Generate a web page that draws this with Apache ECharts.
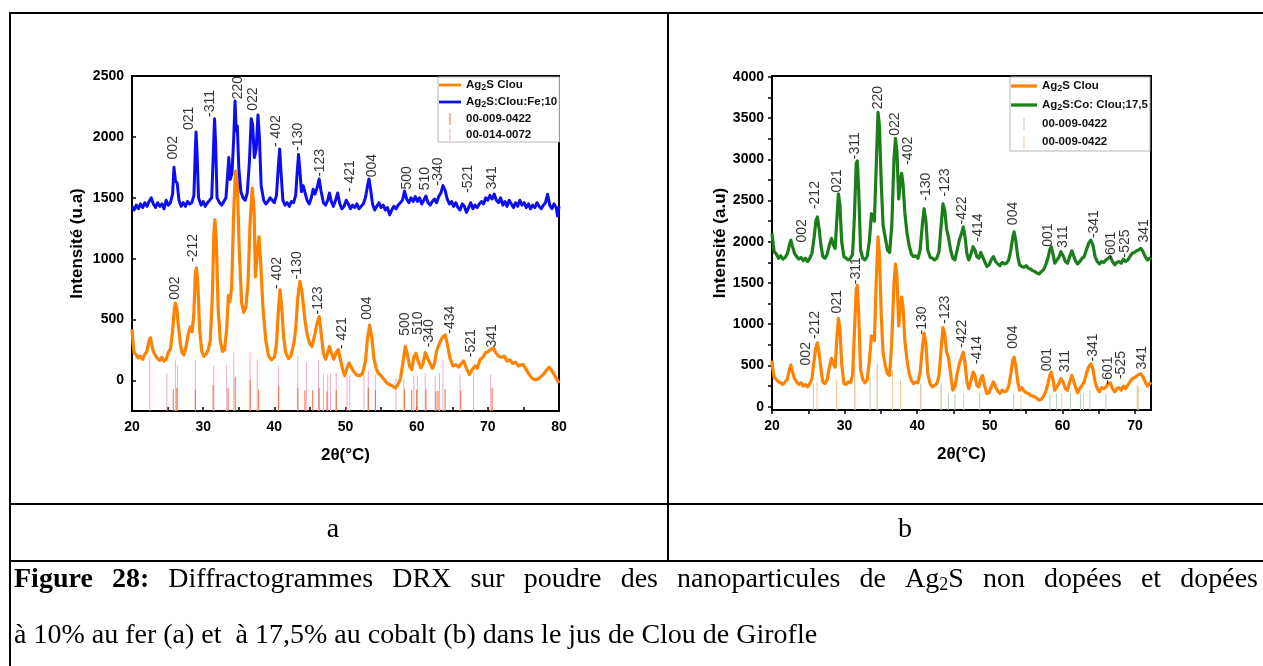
<!DOCTYPE html>
<html>
<head>
<meta charset="utf-8">
<script src="https://cdn.jsdelivr.net/npm/echarts@6/dist/echarts.min.js"></script>
<style>
  html, body { margin: 0; padding: 0; background: #fff; }
  #c { width: 1263px; height: 666px; }
</style>
</head>
<body>
<div id="c"></div>
<script>
// ---------- (a) Ag2S Clou vs Ag2S:Clou:Fe;10 ----------
const orangeA = [
  [20.0,420],[20.15,300],[20.3,230],[20.6,210],[20.9,185],[21.2,200],[21.5,175],[21.8,215],[22.1,240],[22.4,330],[22.6,350],[22.8,290],[23.0,240],[23.3,205],[23.6,180],[23.9,165],[24.2,190],[24.5,160],[24.8,175],[25.1,230],[25.4,260],[25.7,400],[25.95,590],[26.1,635],[26.3,590],[26.5,460],[26.8,300],[27.0,230],[27.3,210],[27.6,280],[27.9,380],[28.2,440],[28.45,400],[28.7,560],[28.9,880],[29.05,925],[29.25,800],[29.5,420],[29.8,240],[30.1,200],[30.4,215],[30.7,250],[31.0,330],[31.3,700],[31.5,1200],[31.65,1320],[31.85,1150],[32.1,600],[32.4,330],[32.7,240],[33.0,250],[33.3,420],[33.55,700],[33.75,650],[34.0,760],[34.3,1400],[34.55,1720],[34.8,1620],[35.05,1100],[35.4,640],[35.7,560],[36.0,600],[36.3,800],[36.6,1300],[36.9,1580],[37.15,1400],[37.35,850],[37.6,1050],[37.85,1180],[38.1,950],[38.4,600],[38.8,330],[39.2,200],[39.6,170],[40.0,190],[40.3,300],[40.55,560],[40.8,745],[41.05,600],[41.3,360],[41.6,230],[42.0,180],[42.3,200],[42.7,290],[43.0,420],[43.3,680],[43.6,815],[43.9,720],[44.3,500],[44.6,380],[45.0,300],[45.3,280],[45.7,380],[46.0,470],[46.3,525],[46.6,380],[46.9,220],[47.2,175],[47.5,230],[47.75,280],[48.0,230],[48.35,175],[48.7,230],[49.0,255],[49.3,170],[49.6,90],[49.9,40],[50.2,100],[50.5,145],[50.8,110],[51.2,70],[51.6,45],[52.0,40],[52.4,60],[52.8,160],[53.1,350],[53.4,455],[53.7,350],[54.0,180],[54.3,100],[54.6,60],[55.0,40],[55.4,10],[55.8,-20],[56.2,-35],[56.6,-45],[57.0,-60],[57.3,-40],[57.7,10],[58.0,120],[58.4,280],[58.7,210],[59.0,120],[59.3,90],[59.6,190],[59.9,225],[60.2,160],[60.6,105],[60.9,140],[61.2,230],[61.45,240],[61.8,150],[62.2,100],[62.5,140],[62.8,240],[63.1,290],[63.4,330],[63.7,360],[64.0,375],[64.3,300],[64.7,180],[65.1,120],[65.5,130],[65.9,110],[66.3,140],[66.6,160],[67.0,100],[67.4,50],[67.8,90],[68.2,120],[68.5,100],[68.9,170],[69.3,190],[69.7,230],[70.1,240],[70.5,260],[70.8,265],[71.1,230],[71.5,200],[71.9,190],[72.3,200],[72.7,160],[73.1,170],[73.5,140],[73.9,150],[74.3,120],[74.7,130],[75.0,130],[75.4,90],[75.8,50],[76.2,20],[76.6,5],[77.0,10],[77.4,30],[77.8,50],[78.2,80],[78.6,110],[78.9,90],[79.2,60],[79.6,20],[80.0,-20]
];
const blueA = [
  [20.0,1430],[20.3,1400],[20.6,1440],[20.9,1410],[21.2,1450],[21.5,1420],[21.8,1460],[22.1,1430],[22.4,1470],[22.7,1500],[23.0,1450],[23.3,1420],[23.6,1460],[23.9,1430],[24.2,1450],[24.5,1410],[24.8,1480],[25.1,1440],[25.4,1460],[25.7,1530],[25.9,1750],[26.1,1640],[26.35,1620],[26.6,1480],[26.9,1430],[27.2,1460],[27.5,1430],[27.8,1470],[28.1,1450],[28.4,1460],[28.7,1520],[28.9,1900],[29.0,2040],[29.15,1850],[29.35,1500],[29.7,1440],[30.0,1470],[30.3,1430],[30.6,1460],[30.9,1480],[31.2,1500],[31.45,1900],[31.6,2150],[31.75,1950],[31.95,1500],[32.3,1460],[32.6,1440],[32.9,1470],[33.2,1500],[33.45,1700],[33.6,1830],[33.8,1650],[34.05,1700],[34.3,2000],[34.48,2295],[34.65,2050],[34.8,2090],[35.0,1750],[35.3,1550],[35.6,1500],[35.9,1480],[36.2,1540],[36.5,1800],[36.75,2150],[36.95,2100],[37.2,1830],[37.45,1900],[37.7,2180],[37.9,2000],[38.15,1600],[38.5,1480],[38.8,1450],[39.1,1470],[39.4,1500],[39.7,1480],[40.0,1460],[40.3,1520],[40.55,1750],[40.75,1900],[40.95,1700],[41.2,1480],[41.5,1440],[41.8,1460],[42.1,1430],[42.4,1470],[42.7,1460],[43.0,1520],[43.2,1700],[43.4,1855],[43.6,1720],[43.8,1550],[44.05,1600],[44.3,1610],[44.6,1480],[44.9,1450],[45.2,1500],[45.45,1570],[45.7,1530],[46.0,1580],[46.3,1655],[46.55,1560],[46.9,1460],[47.2,1440],[47.5,1480],[47.75,1540],[48.0,1470],[48.3,1430],[48.6,1480],[48.9,1540],[49.2,1450],[49.5,1410],[49.8,1430],[50.1,1480],[50.4,1450],[50.7,1410],[51.0,1440],[51.3,1420],[51.6,1450],[51.9,1410],[52.2,1430],[52.5,1450],[52.8,1500],[53.1,1600],[53.3,1655],[53.5,1580],[53.8,1450],[54.1,1400],[54.4,1430],[54.7,1460],[55.0,1420],[55.3,1440],[55.6,1400],[55.9,1420],[56.2,1360],[56.5,1400],[56.8,1430],[57.1,1410],[57.4,1440],[57.7,1460],[58.0,1480],[58.3,1555],[58.6,1490],[58.9,1460],[59.2,1500],[59.5,1470],[59.8,1510],[60.1,1470],[60.4,1500],[60.7,1450],[61.0,1480],[61.3,1515],[61.6,1460],[61.9,1440],[62.2,1470],[62.5,1490],[62.8,1460],[63.1,1510],[63.4,1540],[63.7,1600],[64.0,1560],[64.3,1490],[64.6,1450],[64.9,1470],[65.2,1430],[65.5,1460],[65.8,1420],[66.1,1400],[66.4,1450],[66.7,1430],[67.0,1380],[67.3,1420],[67.6,1460],[67.9,1410],[68.2,1440],[68.5,1420],[68.8,1450],[69.1,1470],[69.4,1450],[69.7,1500],[70.0,1480],[70.3,1520],[70.6,1490],[70.9,1530],[71.2,1480],[71.5,1460],[71.8,1500],[72.1,1440],[72.4,1470],[72.7,1430],[73.0,1480],[73.3,1450],[73.6,1420],[73.9,1460],[74.2,1430],[74.5,1480],[74.8,1440],[75.1,1460],[75.4,1420],[75.7,1450],[76.0,1410],[76.3,1440],[76.6,1420],[76.9,1460],[77.2,1430],[77.5,1410],[77.8,1440],[78.1,1460],[78.4,1530],[78.7,1440],[79.0,1410],[79.3,1450],[79.6,1420],[79.8,1350],[80.0,1430]
];
// reference patterns (position, stick top)
const refA_0090422 = [
  [25.8,-70],[26.3,-60],[28.9,-75],[31.4,-35],[33.5,-60],[34.5,30],[36.6,5],[37.8,-75],[40.6,-50],[43.3,-60],[44.3,-80],[45.4,-80],[46.3,-60],[47.4,-90],[48.7,-80],[53.2,-60],[54.2,-80],[58.3,-70],[59.3,-80],[60.0,-75],[61.3,-70],[62.7,-90],[63.0,-85],[64.0,-70],[66.2,-80],[70.6,-60]
];
const refA_0140072 = [
  [22.5,200],[24.9,60],[26.1,170],[26.4,120],[28.9,170],[31.5,120],[33.3,130],[34.3,230],[36.6,230],[37.6,170],[40.6,120],[43.3,200],[44.5,150],[46.2,170],[46.9,60],[47.5,50],[47.9,60],[48.7,60],[50.2,30],[50.6,40],[52.6,60],[53.2,80],[54.2,50],[57.1,20],[58.2,10],[59.6,40],[60.1,40],[61.2,60],[62.6,40],[63.2,60],[63.7,170],[66.1,50],[68.0,60],[70.4,50]
];
// peak indexing: [hkl, 2θ, intensity position]
const peaksA_fe = [
  ['002',25.85,1911],['021',27.96,2152],['-311',31.0,2275],['220',34.97,2404],['022',36.99,2311],['- 402',40.26,2048],['-130',43.4,2001],['-123',46.44,1787],['- 421',50.65,1678],['004',53.69,1765],['500',58.6,1664],['510',61.18,1658],['-340',63.05,1716],['-521',67.26,1656],['341',70.63,1664]
];
const peaksA_clou = [
  ['002',26.08,759],['-212',28.66,1088],['- 402',40.36,883],['-130',43.16,946],['-123',46.2,658],['- 421',49.48,389],['004',53.08,595],['500',58.37,463],['510',60.24,471],['-340',61.79,389],['-434',64.69,499],['-521',67.64,307],['341',70.63,367]
];
const xTicksA = [20, 30, 40, 50, 60, 70, 80];
const xMinorA = [20, 25, 30, 35, 40, 45, 50, 55, 60, 65, 70, 75, 80];
const yTicksA = [0, 500, 1000, 1500, 2000, 2500];

// ---------- (b) Ag2S Clou vs Ag2S:Co: Clou;17,5 ----------
const greenB = [
  [20.0,2100],[20.1,2020],[20.3,1880],[20.6,1850],[20.9,1800],[21.2,1830],[21.5,1790],[21.8,1810],[22.1,1850],[22.4,1960],[22.6,2020],[22.8,1950],[23.1,1860],[23.4,1820],[23.7,1790],[24.0,1810],[24.3,1770],[24.6,1800],[24.9,1760],[25.2,1800],[25.5,1860],[25.8,2050],[26.05,2260],[26.25,2300],[26.5,2150],[26.75,1950],[27.0,1820],[27.3,1800],[27.6,1850],[27.9,1960],[28.2,2040],[28.45,1960],[28.7,1920],[28.95,2300],[29.15,2580],[29.35,2450],[29.6,2000],[29.9,1820],[30.2,1800],[30.5,1780],[30.8,1800],[31.1,1850],[31.35,2300],[31.6,2950],[31.75,2980],[31.95,2600],[32.2,1900],[32.5,1800],[32.8,1780],[33.1,1820],[33.4,2000],[33.7,2340],[33.9,2300],[34.1,2250],[34.35,2900],[34.6,3570],[34.8,3400],[35.05,2700],[35.3,2200],[35.6,2050],[35.9,1900],[36.2,1870],[36.5,2200],[36.8,3000],[37.0,3250],[37.2,3100],[37.45,2520],[37.65,2700],[37.85,2830],[38.05,2700],[38.3,2350],[38.6,2100],[38.9,1950],[39.2,1850],[39.5,1820],[39.8,1830],[40.1,1800],[40.4,1900],[40.7,2200],[40.95,2400],[41.2,2250],[41.45,1900],[41.8,1810],[42.1,1800],[42.4,1780],[42.7,1800],[43.0,1880],[43.25,2150],[43.55,2460],[43.8,2380],[44.05,2150],[44.3,2060],[44.6,1900],[44.9,1800],[45.2,1780],[45.5,1900],[45.8,2020],[46.1,2100],[46.35,2180],[46.6,2050],[46.85,1850],[47.1,1780],[47.4,1850],[47.7,1940],[47.95,1900],[48.2,1820],[48.5,1800],[48.75,1870],[49.0,1880],[49.3,1760],[49.6,1700],[49.9,1720],[50.2,1780],[50.5,1820],[50.8,1760],[51.1,1730],[51.4,1710],[51.7,1750],[52.0,1730],[52.3,1740],[52.6,1780],[52.9,1900],[53.15,2050],[53.35,2120],[53.6,2000],[53.85,1820],[54.1,1720],[54.4,1700],[54.7,1690],[55.0,1710],[55.3,1680],[55.6,1670],[55.9,1650],[56.2,1640],[56.5,1620],[56.8,1610],[57.1,1640],[57.4,1660],[57.7,1720],[58.0,1800],[58.25,1900],[58.45,1940],[58.7,1850],[58.95,1740],[59.2,1730],[59.5,1810],[59.8,1880],[60.1,1830],[60.4,1760],[60.7,1740],[61.0,1820],[61.3,1890],[61.55,1880],[61.8,1770],[62.1,1730],[62.4,1760],[62.7,1800],[63.0,1820],[63.3,1900],[63.6,1980],[63.9,2020],[64.2,1960],[64.5,1820],[64.8,1760],[65.1,1730],[65.4,1760],[65.7,1750],[66.0,1780],[66.3,1800],[66.6,1820],[66.9,1760],[67.2,1720],[67.5,1750],[67.8,1760],[68.1,1740],[68.4,1790],[68.7,1760],[69.0,1780],[69.3,1820],[69.6,1860],[69.9,1870],[70.2,1890],[70.5,1900],[70.8,1920],[71.1,1880],[71.4,1820],[71.7,1780],[72.0,1800],[72.2,1780]
];
const orangeB = [
  [20.0,560],[20.1,460],[20.3,360],[20.6,330],[20.9,300],[21.2,290],[21.5,270],[21.8,300],[22.1,330],[22.4,450],[22.6,505],[22.8,430],[23.1,340],[23.4,300],[23.7,270],[24.0,290],[24.3,250],[24.6,270],[24.9,240],[25.2,280],[25.5,340],[25.8,560],[26.05,720],[26.25,775],[26.5,650],[26.75,450],[27.0,300],[27.3,280],[27.6,330],[27.9,480],[28.2,585],[28.45,520],[28.7,480],[28.95,850],[29.15,1070],[29.35,950],[29.6,520],[29.9,280],[30.2,270],[30.5,300],[30.8,290],[31.1,380],[31.35,900],[31.6,1420],[31.75,1470],[31.95,1100],[32.2,450],[32.5,330],[32.8,290],[33.1,320],[33.4,550],[33.7,860],[33.9,830],[34.1,800],[34.35,1500],[34.6,2060],[34.8,1850],[35.05,1100],[35.3,650],[35.6,500],[35.9,400],[36.2,380],[36.5,800],[36.8,1500],[37.0,1730],[37.2,1600],[37.45,980],[37.65,1200],[37.85,1330],[38.05,1200],[38.3,800],[38.6,560],[38.9,400],[39.2,320],[39.5,280],[39.8,300],[40.1,290],[40.4,420],[40.7,700],[40.95,890],[41.2,760],[41.45,400],[41.8,270],[42.1,240],[42.4,260],[42.7,280],[43.0,370],[43.25,650],[43.55,960],[43.8,880],[44.05,660],[44.3,600],[44.6,400],[44.9,200],[45.2,240],[45.5,400],[45.8,520],[46.1,600],[46.35,660],[46.6,520],[46.85,300],[47.1,220],[47.4,320],[47.7,420],[47.95,380],[48.2,260],[48.5,240],[48.75,340],[49.0,380],[49.3,250],[49.6,160],[49.9,170],[50.2,240],[50.5,300],[50.8,240],[51.1,190],[51.4,160],[51.7,200],[52.0,180],[52.3,190],[52.6,250],[52.9,400],[53.15,560],[53.35,600],[53.6,480],[53.85,300],[54.1,200],[54.4,230],[54.7,190],[55.0,170],[55.3,160],[55.6,140],[55.9,130],[56.2,120],[56.5,100],[56.8,80],[57.1,90],[57.4,130],[57.7,180],[58.0,280],[58.25,380],[58.45,420],[58.7,330],[58.95,200],[59.2,190],[59.5,280],[59.8,340],[60.1,300],[60.4,220],[60.7,200],[61.0,300],[61.3,380],[61.55,360],[61.8,240],[62.1,170],[62.4,220],[62.7,260],[63.0,300],[63.3,400],[63.6,480],[63.9,520],[64.2,460],[64.5,300],[64.8,220],[65.1,180],[65.4,230],[65.7,220],[66.0,240],[66.3,280],[66.6,290],[66.9,220],[67.2,180],[67.5,220],[67.8,230],[68.1,200],[68.4,250],[68.7,220],[69.0,260],[69.3,300],[69.6,340],[69.9,350],[70.2,370],[70.5,390],[70.8,400],[71.1,360],[71.4,300],[71.7,250],[72.0,280],[72.2,300]
];
const refB_green = [
  [25.7,280],[28.9,320],[31.4,520],[33.5,360],[34.5,520],[36.6,440],[37.7,320],[40.5,280],[43.3,280],[44.3,160],[45.2,160],[48.6,160],[53.3,160],[58.3,160],[59.2,160],[61.1,160],[62.5,160],[63.8,200],[66.0,160],[70.3,260]
];
const refB_orange = [
  [26.2,300],[28.9,320],[31.4,500],[34.5,500],[36.6,440],[37.7,320],[40.5,260],[43.3,260],[46.4,160],[54.3,140],[59.9,160],[62.9,160],[70.5,240]
];
const peaksB_co = [
  ['002',24.13,2133],['-212',25.96,2566],['021',29.04,2739],['-311',31.47,3164],['220',34.68,3749],['022',36.97,3426],['-402',38.81,3103],['-130',41.24,2667],['-123',43.85,2719],['-422',46.15,2380],['-414',48.44,2174],['004',53.26,2343],['001',58.07,2081],['311',60.05,2061],['-341',64.36,2214],['-601',66.65,1952],['-525',68.62,1980],['341',71.28,2133]
];
const peaksB_clou = [
  ['002',24.72,642],['-212',25.96,990],['021',29.04,1273],['-311',31.61,1648],['-130',40.64,1046],['-123',43.85,1176],['-422',46.15,885],['-414',48.21,687],['004',53.26,844],['001',57.84,570],['311',60.37,554],['-341',64.27,719],['-601',66.33,440],['-525',68.03,505],['341',70.92,594]
];
const xTicksB = [20, 30, 40, 50, 60, 70];
const xMinorB = [20, 25, 30, 35, 40, 45, 50, 55, 60, 65, 70];
const yTicksB = [0, 500, 1000, 1500, 2000, 2500, 3000, 3500, 4000];
const yMinorB = [0, 250, 500, 750, 1000, 1250, 1500, 1750, 2000, 2250, 2500, 2750, 3000, 3250, 3500, 3750, 4000];

// legend captions
const legendText = {
  'a:clou': '{t|Ag}{s|2}{t|S Clou}',
  'a:fe': '{t|Ag}{s|2}{t|S:Clou:Fe;10}',
  'a:ref1': '{t|00-009-0422}',
  'a:ref2': '{t|00-014-0072}',
  'b:clou': '{t|Ag}{s|2}{t|S Clou}',
  'b:co': '{t|Ag}{s|2}{t|S:Co: Clou;17,5}',
  'b:ref1': '{t|00-009-0422}',
  'b:ref2': '{t|00-009-0422}'
};

// figure caption words (line 1 is justified)
const captionLine1 = [
  [['b','Figure']],[['b','28:']],[['r','Diffractogrammes']],[['r','DRX']],[['r','sur']],[['r','poudre']],
  [['r','des']],[['r','nanoparticules']],[['r','de']],[['r','Ag'],['s','2'],['r','S']],[['r','non']],
  [['r','dopées']],[['r','et']],[['r','dopées']]
];
const captionLine2 = 'à 10% au fer (a) et  à 17,5% au cobalt (b) dans le jus de Clou de Girofle';
const panelLetters = ['a', 'b'];

// ---------- styling ----------
const SANS = '"Liberation Sans", Arial, sans-serif';
const SERIF = '"Liberation Serif", "Times New Roman", serif';
const C_ORANGE = '#ff8200';
const C_BLUE = '#0d0df2';
const C_GREEN = '#1b7e1b';

const LINE_ICON = 'path://M0,0 h24 v3 h-24 z';
const STICK_ICON = 'path://M0,0 h1 v12 h-1 z';

const Y_MIN_A = -250, Y_MAX_A = 2500;
const Y_MIN_B = -40, Y_MAX_B = 4010;

function xAxis(grid, max, labels, ticks, inside) {
  return {
    type: 'value', gridIndex: grid, min: 20, max: max,
    name: '2θ(°C)', nameLocation: 'middle', nameGap: 36,
    nameTextStyle: { fontFamily: SANS, fontWeight: 'bold', fontSize: 17, color: '#000' },
    axisLine: { show: true, onZero: false, lineStyle: { color: '#000', width: 2 } },
    axisTick: { show: true, inside: inside, length: 4, customValues: ticks, lineStyle: { color: '#000', width: 1.5 } },
    axisLabel: { customValues: labels, margin: 9, formatter: v => String(v),
                 fontFamily: SANS, fontWeight: 'bold', fontSize: 14, color: '#000' },
    splitLine: { show: false }
  };
}
function yAxis(grid, min, max, title, gap, labels, ticks, inside) {
  return {
    type: 'value', gridIndex: grid, min: min, max: max,
    name: title, nameLocation: 'middle', nameGap: gap,
    nameTextStyle: { fontFamily: SANS, fontWeight: 'bold', fontSize: 17, color: '#000' },
    axisLine: { show: true, onZero: false, lineStyle: { color: '#000', width: 2 } },
    axisTick: { show: true, inside: inside, length: 4, customValues: ticks, lineStyle: { color: '#000', width: 1.5 } },
    axisLabel: { customValues: labels, margin: 8, formatter: v => String(v),
                 fontFamily: SANS, fontWeight: 'bold', fontSize: 14, color: '#000' },
    splitLine: { show: false }
  };
}
function curve(name, xi, data, color, width) {
  return {
    name: name, type: 'line', xAxisIndex: xi, yAxisIndex: xi, data: data,
    showSymbol: false, symbol: 'none', smooth: false, silent: true,
    lineStyle: { color: color, width: width, join: 'round' }, itemStyle: { color: color }
  };
}
function sticks(name, xi, data, color, yMin) {
  return {
    name: name, type: 'custom', xAxisIndex: xi, yAxisIndex: xi, data: data, silent: true,
    itemStyle: { color: color }, z: 1,
    renderItem: function (params, api) {
      const p0 = api.coord([api.value(0), yMin]);
      const p1 = api.coord([api.value(0), api.value(1)]);
      return { type: 'line', shape: { x1: p0[0], y1: p0[1], x2: p1[0], y2: p1[1] },
               style: { stroke: color, lineWidth: 1 } };
    }
  };
}
function peakLabels(xi, peaks) {
  return {
    type: 'scatter', xAxisIndex: xi, yAxisIndex: xi, silent: true, z: 5,
    symbolSize: 1, itemStyle: { color: 'rgba(0,0,0,0)' },
    data: peaks.map(p => ({ name: p[0], value: [p[1], p[2]] })),
    label: { show: true, formatter: '{b}', rotate: 90, position: 'inside',
             fontFamily: SANS, fontSize: 14, color: '#000' },
    labelLayout: { hideOverlap: false }
  };
}
const legendRich = {
  t: { fontFamily: SANS, fontWeight: 'bold', fontSize: 11.5, color: '#111' },
  s: { fontFamily: SANS, fontWeight: 'bold', fontSize: 9, color: '#111', padding: [5, 0, 0, 0] }
};
function legend(left, top, names, icons, w, gap, pad) {
  return {
    orient: 'vertical', left: left, top: top, padding: pad,
    itemWidth: w, itemHeight: 12, itemGap: gap, selectedMode: false,
    backgroundColor: '#fff', borderColor: '#b8b8b8', borderWidth: 1,
    data: names.map((n, i) => ({ name: n, icon: icons[i] })),
    formatter: n => legendText[n],
    textStyle: { rich: legendRich }
  };
}

// ---------- caption layout ----------
const measureCtx = document.createElement('canvas').getContext('2d');
const capFonts = { b: 'bold 28px ' + SERIF, r: '28px ' + SERIF, s: '18px ' + SERIF };
function measure(font, s) { measureCtx.font = font; return measureCtx.measureText(s).width; }
const CAP_LEFT = 14, CAP_RIGHT = 1258;
let wordsWidth = 0;
captionLine1.forEach(w => w.forEach(([st, tx]) => { wordsWidth += measure(capFonts[st], tx); }));
const capGap = (CAP_RIGHT - CAP_LEFT - wordsWidth) / (captionLine1.length - 1);
const capText1 = captionLine1.map(w => w.map(([st, tx]) => '{' + st + '|' + tx + '}').join('')).join('{g| }');
const capRich = {
  b: { fontFamily: SERIF, fontWeight: 'bold', fontSize: 28, color: '#000' },
  r: { fontFamily: SERIF, fontSize: 28, color: '#000' },
  s: { fontFamily: SERIF, fontSize: 18, color: '#000', padding: [10, 0, 0, 0] },
  g: { fontFamily: SERIF, fontSize: 28, width: capGap }
};

// table rules
const T = { left: 10, top: 13, mid: 668, row1: 504, row2: 561, right: 1263, bottom: 666 };
function rule(x1, y1, x2, y2) {
  return { type: 'line', shape: { x1: x1, y1: y1, x2: x2, y2: y2 }, style: { stroke: '#000', lineWidth: 2 }, silent: true };
}

const chart = echarts.init(document.getElementById('c'), null, { renderer: 'canvas' });
chart.setOption({
  animation: false,
  backgroundColor: '#fff',
  grid: [
    { left: 132, top: 76, width: 427, height: 335, show: true, borderColor: '#000', borderWidth: 2, backgroundColor: 'transparent' },
    { left: 772, top: 76, width: 379, height: 334, show: true, borderColor: '#000', borderWidth: 2, backgroundColor: 'transparent' }
  ],
  xAxis: [
    xAxis(0, 80, xTicksA, xMinorA, true),
    xAxis(1, 72.2, xTicksB, xMinorB, false)
  ],
  yAxis: [
    yAxis(0, Y_MIN_A, Y_MAX_A, 'Intensité (u.a)', 46, yTicksA, yTicksA, true),
    yAxis(1, Y_MIN_B, Y_MAX_B, 'Intensité (a.u)', 43, yTicksB, yMinorB, false)
  ],
  legend: [
    legend(438, 77, ['a:clou', 'a:fe', 'a:ref1', 'a:ref2'], [LINE_ICON, LINE_ICON, STICK_ICON, STICK_ICON], 22, 4, [2, 2, 1, 1]),
    legend(1010, 77, ['b:clou', 'b:co', 'b:ref1', 'b:ref2'], [LINE_ICON, LINE_ICON, STICK_ICON, STICK_ICON], 26, 6, [3, 2, 3, 1])
  ],
  series: [
    sticks('a:ref2', 0, refA_0140072, '#f3a9cb', Y_MIN_A),
    sticks('a:ref1', 0, refA_0090422, '#ef6a3c', Y_MIN_A),
    curve('a:clou', 0, orangeA, C_ORANGE, 3.2),
    curve('a:fe', 0, blueA, C_BLUE, 3),
    peakLabels(0, peaksA_fe),
    peakLabels(0, peaksA_clou),
    sticks('b:ref1', 1, refB_green, '#b4cdb4', Y_MIN_B),
    sticks('b:ref2', 1, refB_orange, '#f6c896', Y_MIN_B),
    curve('b:clou', 1, orangeB, C_ORANGE, 3.2),
    curve('b:co', 1, greenB, C_GREEN, 3.2),
    peakLabels(1, peaksB_co),
    peakLabels(1, peaksB_clou)
  ],
  graphic: [
    rule(T.left, T.top, T.right, T.top),
    rule(T.left, T.top - 1, T.left, T.bottom),
    rule(T.mid, T.top, T.mid, T.row2),
    rule(T.left, T.row1, T.right, T.row1),
    rule(T.left, T.row2, T.right, T.row2),
    { type: 'text', silent: true, style: { x: 333, y: 530, text: panelLetters[0], font: '28px ' + SERIF, fill: '#000', textAlign: 'center', textVerticalAlign: 'middle' } },
    { type: 'text', silent: true, style: { x: 905, y: 530, text: panelLetters[1], font: '28px ' + SERIF, fill: '#000', textAlign: 'center', textVerticalAlign: 'middle' } },
    { type: 'text', silent: true, style: { x: CAP_LEFT, y: 580, text: capText1, rich: capRich, textAlign: 'left', textVerticalAlign: 'middle' } },
    { type: 'text', silent: true, style: { x: CAP_LEFT, y: 636, text: captionLine2, font: '28px ' + SERIF, fill: '#000', textAlign: 'left', textVerticalAlign: 'middle' } }
  ]
});
</script>
</body>
</html>
